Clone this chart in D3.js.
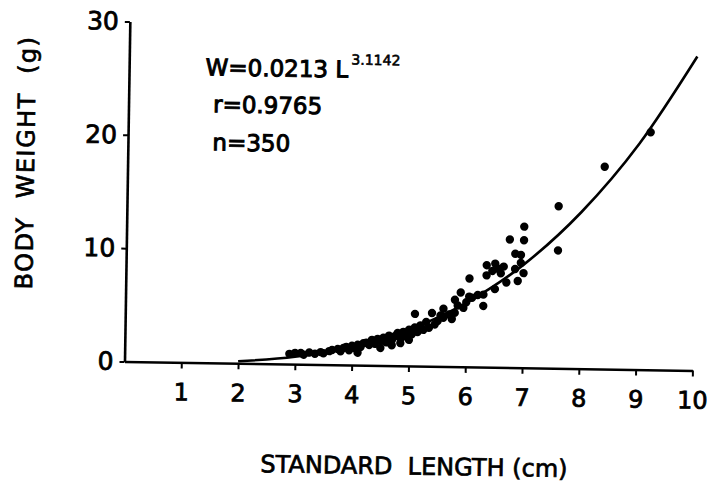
<!DOCTYPE html>
<html>
<head>
<meta charset="utf-8">
<script src="https://cdn.jsdelivr.net/npm/d3@7"></script>
<style>
    body { margin: 0; background: #fff; }
    svg { display: block; }
</style>
</head>
<body>
<div class="chart__container"></div>
<script>
// length (cm) / weight (g) of every dot
const lengths = [
    2.9, 3.0, 3.1, 3.15, 3.25, 3.35, 3.45, 3.5, 3.6, 3.65,
    3.75, 3.8, 3.85, 3.9, 3.95, 4.0, 4.05, 4.1, 4.1, 4.15,
    4.2, 4.25, 4.3, 4.35, 4.4, 4.45, 4.5, 4.5, 4.55, 4.6,
    4.65, 4.7, 4.7, 4.75, 4.8, 4.85, 4.85, 4.9, 4.95, 5.0,
    5.0, 5.05, 5.1, 5.1, 5.15, 5.2, 5.25, 5.3, 5.35, 5.4,
    5.45, 5.5, 5.55, 5.6, 5.6, 5.7, 5.75, 5.8, 5.8, 5.85,
    5.9, 5.95, 6.0, 6.05, 6.1, 6.05, 6.2, 6.3, 6.3, 6.35,
    6.35, 6.45, 6.5, 6.5, 6.55, 6.6, 6.65, 6.7, 6.75, 6.85,
    6.85, 6.9, 6.95, 6.95, 7.0, 7.0, 7.0, 7.6, 7.6, 8.4,
    9.2
];
const weights = [
    0.9, 1.0, 1.0, 0.85, 1.05, 0.95, 1.1, 1.0, 1.2, 1.3,
    1.4, 1.2, 1.5, 1.6, 1.3, 1.7, 1.5, 1.8, 1.1, 1.6,
    1.95, 2.0, 1.8, 2.25, 1.9, 2.35, 2.15, 1.55, 2.45, 2.05,
    2.65, 2.25, 1.8, 2.6, 2.9, 2.4, 2.0, 3.0, 2.6, 3.2,
    2.3, 2.8, 3.4, 4.6, 3.0, 3.6, 3.2, 3.9, 3.4, 4.7,
    3.7, 4.0, 4.5, 5.1, 4.3, 4.6, 4.2, 4.75, 5.9, 5.4,
    6.55, 5.2, 5.7, 6.2, 6.1, 7.8, 6.35, 6.4, 5.4, 8.1,
    9.0, 8.5, 9.15, 6.9, 8.7, 8.3, 8.9, 7.5, 11.3, 10.05,
    8.7, 7.65, 9.95, 9.25, 8.35, 12.45, 11.25, 10.4, 14.3, 17.85,
    20.95
];

// fitted curve W = 0.0213 L^3.1142
const curveLengths = [2, 3, 4, 5, 6, 7, 8, 9, 10];
const curveWeights = [0.18, 0.65, 1.6, 3.2, 5.65, 9.1, 13.8, 19.9, 27.7];

const xTicks = [1, 2, 3, 4, 5, 6, 7, 8, 9, 10];
const yTicks = [0, 10, 20, 30];

function whenDocumentLoaded(action) {
    if (document.readyState === "loading") {
        document.addEventListener("DOMContentLoaded", action);
    } else {
        action();
    }
}

function inked(sel, w) {
    // scanned hand lettering is heavier than the plain font
    return sel.attr("fill", "#000").attr("stroke", "#000").attr("stroke-width", w);
}

function drawChart() {
    const chart = {
        width: 707,
        height: 487,
        originX: 124.5,
        originY: 361.5,
        plotW: 568,
        plotH: 340,
        tilt: 0.9, // the scanned page sits a little crooked
        font: "'DejaVu Sans', sans-serif"
    };

    const svg = d3.select(".chart__container")
        .append("svg")
        .attr("width", chart.width)
        .attr("height", chart.height);

    const page = svg.append("g")
        .attr("transform", "rotate(" + chart.tilt + "," + chart.originX + "," + chart.originY + ")");

    const x = d3.scaleLinear()
        .domain([0, 10])
        .range([chart.originX, chart.originX + chart.plotW]);

    const y = d3.scaleLinear()
        .domain([0, 30])
        .range([chart.originY, chart.originY - chart.plotH]);

    // axes
    const xAxis = page.append("g")
        .attr("transform", "translate(0," + chart.originY + ")")
        .call(d3.axisBottom(x).tickValues(xTicks).tickSize(6).tickSizeOuter(0).tickPadding(15));

    const yAxis = page.append("g")
        .attr("transform", "translate(" + chart.originX + ",0)")
        .call(d3.axisLeft(y).tickValues(yTicks).tickSize(5).tickSizeOuter(0).tickPadding(6));

    [xAxis, yAxis].forEach(function(ax) {
        ax.select(".domain").attr("stroke", "#000").attr("stroke-width", 2.6);
        ax.selectAll(".tick line").attr("stroke", "#000").attr("stroke-width", 2);
        inked(ax.selectAll(".tick text"), 0.8)
            .style("font-family", chart.font);
    });

    xAxis.selectAll(".tick text").style("font-size", "24px");
    yAxis.selectAll(".tick text").style("font-size", "25px");

    // fitted curve
    const line = d3.line()
        .x(function(d) { return x(d[0]); })
        .y(function(d) { return y(d[1]); })
        .curve(d3.curveMonotoneX);

    page.append("path")
        .datum(d3.zip(curveLengths, curveWeights))
        .attr("d", line)
        .attr("fill", "none")
        .attr("stroke", "#000")
        .attr("stroke-width", 2.6);

    // observations
    page.append("g")
        .selectAll("circle")
        .data(d3.zip(lengths, weights))
        .enter()
        .append("circle")
        .attr("cx", function(d) { return x(d[0]); })
        .attr("cy", function(d) { return y(d[1]); })
        .attr("r", 4.2)
        .attr("fill", "#000");

    // equation block
    const eq = inked(page.append("g"), 1)
        .style("font-family", chart.font);

    const first = eq.append("text")
        .attr("x", 201)
        .attr("y", 74)
        .style("font-size", "23px");
    first.append("tspan").text("W=0.0213 L");
    first.append("tspan")
        .attr("dy", -13)
        .attr("dx", 3)
        .style("font-size", "14px")
        .attr("stroke-width", 0.6)
        .text("3.1142");

    eq.append("text")
        .attr("x", 209)
        .attr("y", 111)
        .style("font-size", "23px")
        .text("r=0.9765");

    eq.append("text")
        .attr("x", 209)
        .attr("y", 149)
        .style("font-size", "23px")
        .text("n=350");

    // axis titles
    inked(page.append("text"), 0.7)
        .attr("x", 262)
        .attr("y", 470)
        .style("font-family", chart.font)
        .style("font-size", "24px")
        .style("white-space", "pre")
        .text("STANDARD  LENGTH (cm)");

    inked(page.append("text"), 0.7)
        .attr("transform", "translate(31,164) rotate(-90)")
        .attr("text-anchor", "middle")
        .style("font-family", chart.font)
        .style("font-size", "24px")
        .style("letter-spacing", "1.5px")
        .style("white-space", "pre")
        .text("BODY  WEIGHT  (g)");
}

whenDocumentLoaded(drawChart);
</script>
</body>
</html>
